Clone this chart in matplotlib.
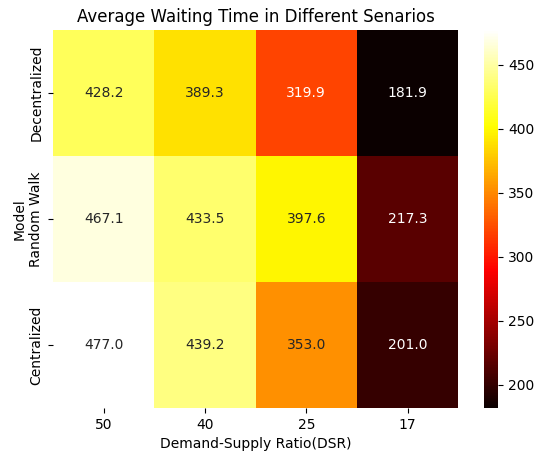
import numpy as np
import pandas as pd
import matplotlib
matplotlib.use("Agg")
import matplotlib.pyplot as plt
import seaborn as sns

models = ["Decentralized", "Random Walk", "Centralized"]
dsr = [50, 40, 25, 17]
decentralized = [428.2, 389.3, 319.9, 181.9]
random_walk = [467.1, 433.5, 397.6, 217.3]
centralized = [477.0, 439.2, 353.0, 201.0]

df = pd.DataFrame([decentralized, random_walk, centralized], index=models, columns=dsr)

fig = plt.figure(figsize=(5.41, 4.54), dpi=100)
ax = fig.add_axes([0.098, 0.101, 0.749, 0.833])
cax = fig.add_axes([0.895, 0.101, 0.026, 0.833])
sns.heatmap(df, annot=True, fmt=".1f", cmap="hot", ax=ax, cbar_ax=cax)
ax.set_title("Average Waiting Time in Different Senarios")
ax.set_xlabel("Demand-Supply Ratio(DSR)")
ax.set_ylabel("Model", labelpad=2)
cax.tick_params(labelsize=10)

fig.savefig("out.png", dpi=100)
